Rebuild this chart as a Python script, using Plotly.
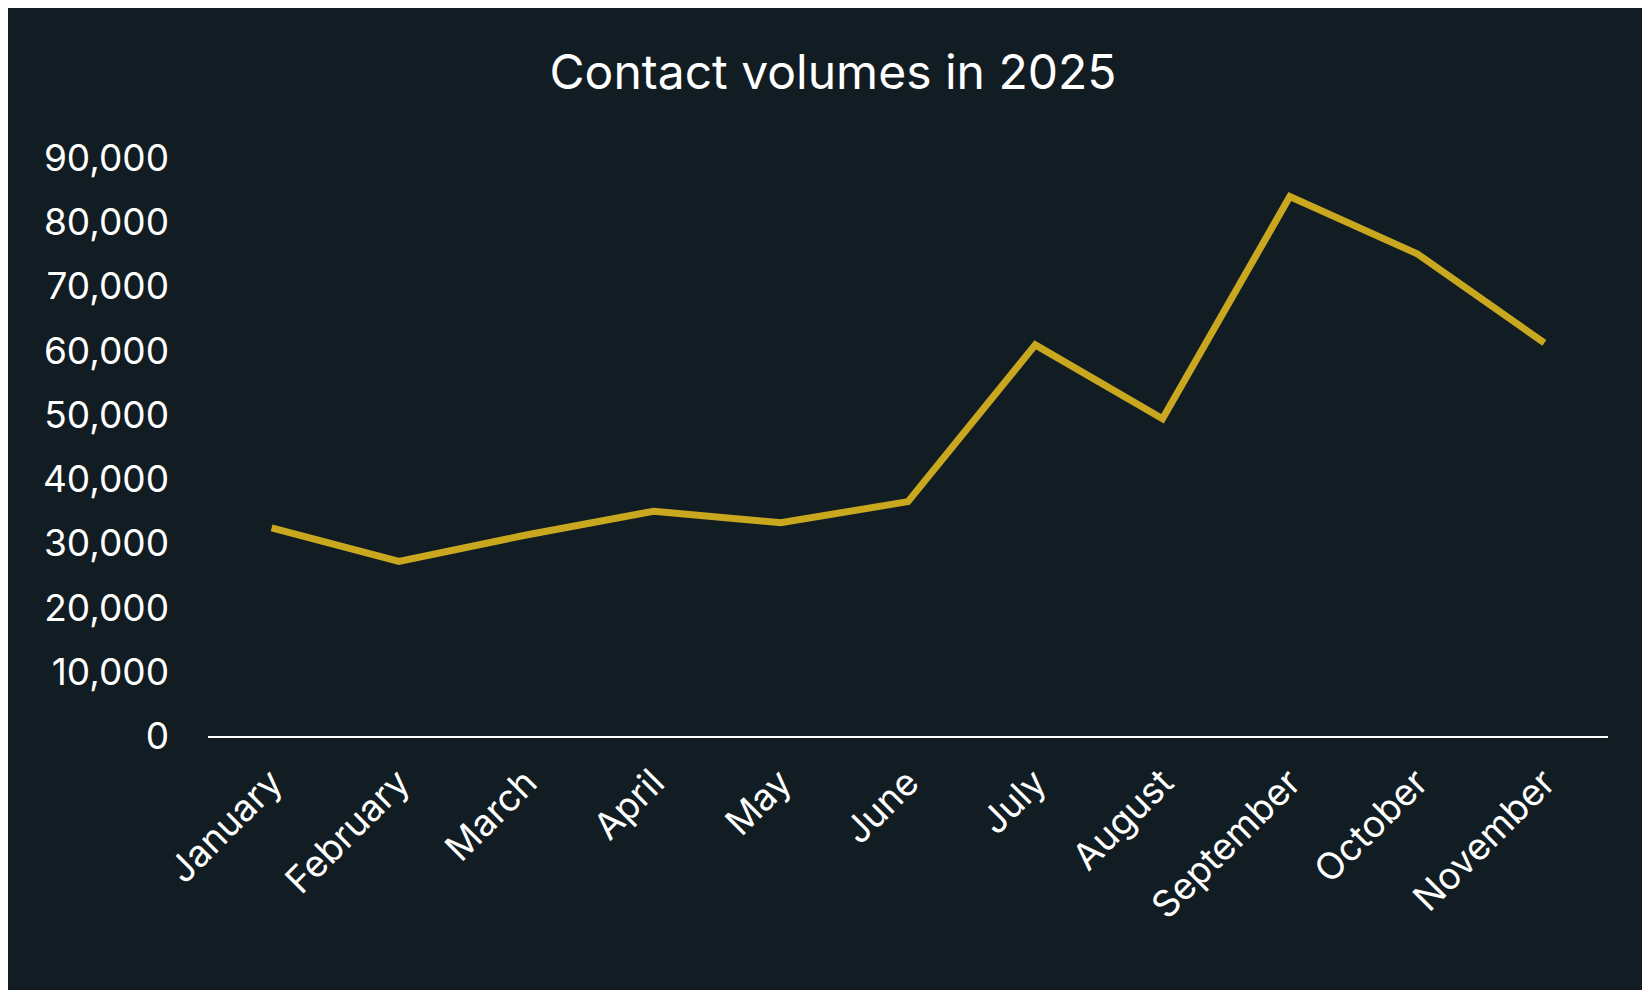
import plotly.graph_objects as go

months = ["January", "February", "March", "April", "May", "June", "July",
          "August", "September", "October", "November"]
contacts = [32400, 27200, 31300, 35000, 33200, 36500, 60900, 49400, 84000, 75100, 61200]

bg = "#111d22"

fig = go.Figure(go.Scatter(
    x=months, y=contacts, mode="lines",
    line=dict(color="#c9a71f", width=7),
))

fig.update_layout(
    width=1650, height=990,
    paper_bgcolor=bg, plot_bgcolor=bg,
    font=dict(family="Inter, Open Sans, sans-serif", color="white", size=37),
    title=dict(text="Contact volumes in 2025", x=0.5, xanchor="center",
               y=0.935, yanchor="middle", font=dict(size=48)),
    margin=dict(l=200, r=50, t=150, b=262),
    showlegend=False,
)
fig.update_xaxes(tickangle=-45, showgrid=False, showline=True, linecolor="white",
                 linewidth=2, ticks="", range=[-0.5, 10.5], ticklabelstandoff=8)
fig.update_yaxes(range=[0, 90000], dtick=10000, tickformat=",", showgrid=False,
                 zeroline=False, ticks="", ticklabelstandoff=38)

fig.write_html("out.html")
